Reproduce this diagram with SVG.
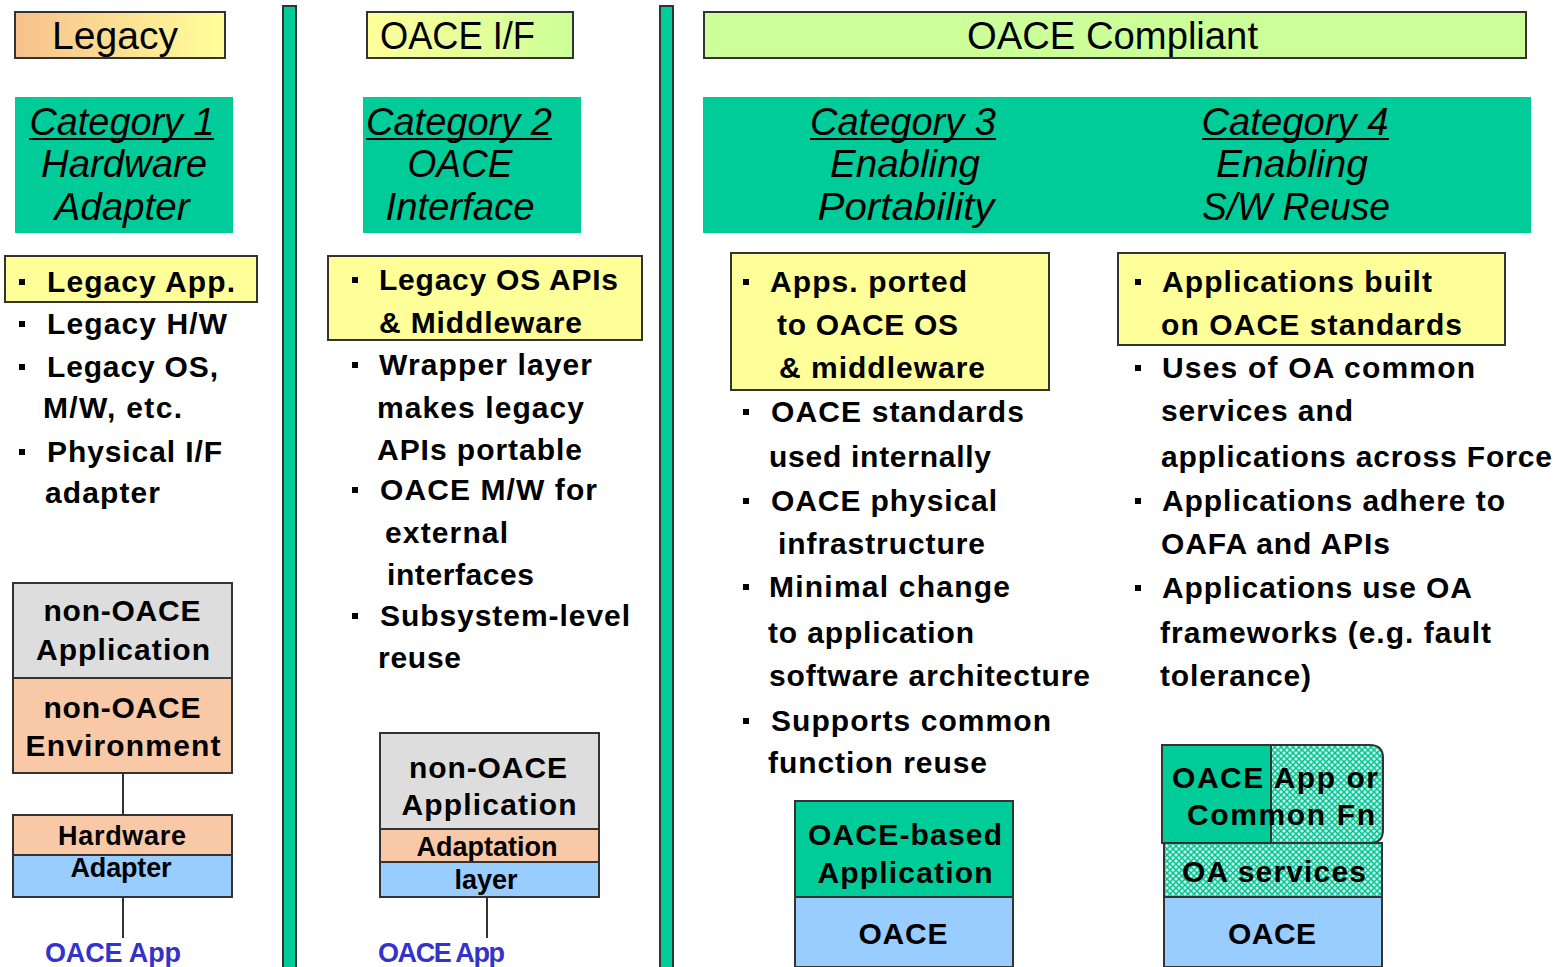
<svg xmlns="http://www.w3.org/2000/svg" width="1562" height="967" viewBox="0 0 1562 967">
<defs>
<linearGradient id="gLeg" x1="0" y1="0" x2="1" y2="0"><stop offset="0" stop-color="#f8c08c"/><stop offset="1" stop-color="#ffff99"/></linearGradient>
<linearGradient id="gIF" x1="0" y1="0" x2="1" y2="0"><stop offset="0" stop-color="#ffff99"/><stop offset="1" stop-color="#ccff99"/></linearGradient>
<pattern id="hatch" width="6" height="6" patternUnits="userSpaceOnUse">
<rect width="6" height="6" fill="#c8f4e6"/>
<path d="M0 0L6 6M6 0L0 6" stroke="#00c494" stroke-width="1.4"/>
</pattern>
<style>
.hdr{stroke:#333;stroke-width:2}
.hdrt{font-family:"Liberation Sans",Arial,sans-serif;font-size:38px;fill:#000}
.cat{fill:#00cc99}
.catt{font-family:"Liberation Sans",Arial,sans-serif;font-size:38px;font-style:italic;fill:#000;text-anchor:middle}
.u{stroke:#000;stroke-width:2}
.box{stroke:#333;stroke-width:2}
.yel{fill:#ffff99}
.b{font-family:"Liberation Sans",Arial,sans-serif;font-size:30px;font-weight:bold;fill:#000}
.st{font-family:"Liberation Sans",Arial,sans-serif;font-size:30px;font-weight:bold;fill:#000;text-anchor:middle}
.sts{font-family:"Liberation Sans",Arial,sans-serif;font-size:27px;font-weight:bold;fill:#000;text-anchor:middle}
.app{font-family:"Liberation Sans",Arial,sans-serif;font-size:27px;font-weight:bold;fill:#3333cc}
.bar{fill:#00cc99;stroke:#333;stroke-width:2}
.conn{stroke:#333;stroke-width:2;fill:none}
.gray{fill:#dddddd}.peach{fill:#f9c8a6}.blue{fill:#99ccff}.teal{fill:#00cc99}
</style>
</defs>
<rect width="1562" height="967" fill="#fff"/>

<g id="dividers">
<rect class="bar" x="283" y="6" width="13" height="965"/>
<rect class="bar" x="660" y="6" width="13" height="965"/>
</g>

<g id="hdr-legacy">
<rect class="hdr" x="15" y="12" width="210" height="46" fill="url(#gLeg)"/>
<text class="hdrt" x="52" y="49" textLength="126" lengthAdjust="spacingAndGlyphs">Legacy</text>
</g>
<g id="hdr-oaceif">
<rect class="hdr" x="367" y="12" width="206" height="46" fill="url(#gIF)"/>
<text class="hdrt" x="380" y="49" textLength="155" lengthAdjust="spacingAndGlyphs">OACE I/F</text>
</g>
<g id="hdr-compliant">
<rect class="hdr" x="704" y="12" width="822" height="46" fill="#ccff99"/>
<text class="hdrt" x="967" y="49" textLength="291" lengthAdjust="spacingAndGlyphs">OACE Compliant</text>
</g>

<g id="cat1">
<rect class="cat" x="15" y="97" width="218" height="136"/>
<text class="catt" x="122" y="135" textLength="185" lengthAdjust="spacingAndGlyphs">Category 1</text>
<line class="u" x1="29" y1="139" x2="214" y2="139"/>
<text class="catt" x="124" y="177" textLength="166" lengthAdjust="spacingAndGlyphs">Hardware</text>
<text class="catt" x="122" y="220" textLength="135" lengthAdjust="spacingAndGlyphs">Adapter</text>
</g>
<g id="cat2">
<rect class="cat" x="363" y="97" width="218" height="136"/>
<text class="catt" x="459" y="135" textLength="186" lengthAdjust="spacingAndGlyphs">Category 2</text>
<line class="u" x1="366" y1="139" x2="552" y2="139"/>
<text class="catt" x="460" y="177" textLength="105" lengthAdjust="spacingAndGlyphs">OACE</text>
<text class="catt" x="460" y="220" textLength="149" lengthAdjust="spacingAndGlyphs">Interface</text>
</g>
<g id="cat34">
<rect class="cat" x="703" y="97" width="828" height="136"/>
<text class="catt" x="903" y="135" textLength="186" lengthAdjust="spacingAndGlyphs">Category 3</text>
<line class="u" x1="810" y1="139" x2="996" y2="139"/>
<text class="catt" x="905" y="177" textLength="150" lengthAdjust="spacingAndGlyphs">Enabling</text>
<text class="catt" x="906" y="220" textLength="177" lengthAdjust="spacingAndGlyphs">Portability</text>
<text class="catt" x="1295" y="135" textLength="187" lengthAdjust="spacingAndGlyphs">Category 4</text>
<line class="u" x1="1202" y1="139" x2="1389" y2="139"/>
<text class="catt" x="1292" y="177" textLength="152" lengthAdjust="spacingAndGlyphs">Enabling</text>
<text class="catt" x="1296" y="220" textLength="188" lengthAdjust="spacingAndGlyphs">S/W Reuse</text>
</g>

<g id="col1-bullets">
<rect class="box yel" x="5" y="256" width="252" height="46"/>
<rect x="19" y="279" width="6" height="6"/>
<text class="b" x="47" y="292" textLength="188">Legacy App.</text>
<rect x="19" y="321" width="6" height="6"/>
<text class="b" x="47" y="334" textLength="180">Legacy H/W</text>
<rect x="19" y="364" width="6" height="6"/>
<text class="b" x="47" y="377" textLength="171">Legacy OS,</text>
<text class="b" x="43" y="418" textLength="139">M/W, etc.</text>
<rect x="19" y="449" width="6" height="6"/>
<text class="b" x="47" y="462" textLength="175">Physical I/F</text>
<text class="b" x="45" y="503" textLength="115">adapter</text>
</g>

<g id="col2-bullets">
<rect class="box yel" x="328" y="256" width="314" height="84"/>
<rect x="352" y="277" width="6" height="6"/>
<text class="b" x="379" y="290" textLength="239">Legacy OS APIs</text>
<text class="b" x="379" y="333" textLength="203">&amp; Middleware</text>
<rect x="352" y="362" width="6" height="6"/>
<text class="b" x="379" y="375" textLength="213">Wrapper layer</text>
<text class="b" x="377" y="418" textLength="207">makes legacy</text>
<text class="b" x="377" y="460" textLength="205">APIs portable</text>
<rect x="352" y="487" width="6" height="6"/>
<text class="b" x="380" y="500" textLength="217">OACE M/W for</text>
<text class="b" x="385" y="543" textLength="123">external</text>
<text class="b" x="387" y="585" textLength="147">interfaces</text>
<rect x="352" y="613" width="6" height="6"/>
<text class="b" x="380" y="626" textLength="250">Subsystem-level</text>
<text class="b" x="378" y="668" textLength="83">reuse</text>
</g>

<g id="col3-bullets">
<rect class="box yel" x="731" y="253" width="318" height="137"/>
<rect x="743" y="279" width="6" height="6"/>
<text class="b" x="770" y="292" textLength="197">Apps. ported</text>
<text class="b" x="777" y="335" textLength="181">to OACE OS</text>
<text class="b" x="779" y="378" textLength="206">&amp; middleware</text>
<rect x="743" y="409" width="6" height="6"/>
<text class="b" x="771" y="422" textLength="253">OACE standards</text>
<text class="b" x="769" y="467" textLength="222">used internally</text>
<rect x="743" y="498" width="6" height="6"/>
<text class="b" x="771" y="511" textLength="226">OACE physical</text>
<text class="b" x="778" y="554" textLength="207">infrastructure</text>
<rect x="743" y="584" width="6" height="6"/>
<text class="b" x="769" y="597" textLength="241">Minimal change</text>
<text class="b" x="768" y="643" textLength="206">to application</text>
<text class="b" x="769" y="686" textLength="321">software architecture</text>
<rect x="743" y="718" width="6" height="6"/>
<text class="b" x="771" y="731" textLength="280">Supports common</text>
<text class="b" x="768" y="773" textLength="219">function reuse</text>
</g>

<g id="col4-bullets">
<rect class="box yel" x="1118" y="253" width="387" height="92"/>
<rect x="1135" y="279" width="6" height="6"/>
<text class="b" x="1162" y="292" textLength="270">Applications built</text>
<text class="b" x="1161" y="335" textLength="301">on OACE standards</text>
<rect x="1135" y="365" width="6" height="6"/>
<text class="b" x="1162" y="378" textLength="313">Uses of OA common</text>
<text class="b" x="1161" y="421" textLength="192">services and</text>
<text class="b" x="1161" y="467" textLength="391">applications across Force</text>
<rect x="1135" y="498" width="6" height="6"/>
<text class="b" x="1162" y="511" textLength="343">Applications adhere to</text>
<text class="b" x="1161" y="554" textLength="229">OAFA and APIs</text>
<rect x="1135" y="585" width="6" height="6"/>
<text class="b" x="1162" y="598" textLength="310">Applications use OA</text>
<text class="b" x="1160" y="643" textLength="331">frameworks (e.g. fault</text>
<text class="b" x="1160" y="686" textLength="151">tolerance)</text>
</g>

<g id="connectors">
<line class="conn" x1="123" y1="773" x2="123" y2="815"/>
<line class="conn" x1="123" y1="897" x2="123" y2="938"/>
<line class="conn" x1="487" y1="897" x2="487" y2="938"/>
</g>

<g id="stack1">
<rect class="box gray" x="13" y="583" width="219" height="95"/>
<text class="st" x="122" y="621" textLength="157">non-OACE</text>
<text class="st" x="123" y="660" textLength="174">Application</text>
<rect class="box peach" x="13" y="678" width="219" height="95"/>
<text class="st" x="122" y="718" textLength="157">non-OACE</text>
<text class="st" x="123" y="756" textLength="195">Environment</text>
</g>
<g id="stack1-adapter">
<rect class="box peach" x="13" y="815" width="219" height="40"/>
<rect class="box blue" x="13" y="855" width="219" height="42"/>
<text class="sts" x="122" y="845" textLength="128">Hardware</text>
<text class="sts" x="121" y="877" textLength="101">Adapter</text>
</g>
<g id="app1">
<text class="app" x="45" y="962" textLength="136">OACE App</text>
</g>

<g id="stack2">
<rect class="box gray" x="380" y="733" width="219" height="96"/>
<text class="st" x="488" y="778" textLength="158">non-OACE</text>
<text class="st" x="489" y="815" textLength="175">Application</text>
<rect class="box peach" x="380" y="829" width="219" height="33"/>
<text class="sts" x="487" y="856" textLength="141">Adaptation</text>
<rect class="box blue" x="380" y="862" width="219" height="35"/>
<text class="sts" x="486" y="889" textLength="63">layer</text>
</g>
<g id="app2">
<text class="app" x="378" y="962" textLength="127">OACE App</text>
</g>

<g id="stack3">
<rect class="box teal" x="795" y="801" width="218" height="96"/>
<text class="st" x="905" y="845" textLength="194">OACE-based</text>
<text class="st" x="905" y="883" textLength="175">Application</text>
<rect class="box blue" x="795" y="897" width="218" height="70"/>
<text class="st" x="903" y="944" textLength="89">OACE</text>
</g>

<g id="stack4">
<path class="box" d="M1271 745H1370Q1383 745 1383 758V830Q1383 843 1370 843H1271Z" fill="url(#hatch)"/>
<rect class="box teal" x="1162" y="745" width="109" height="98"/>
<text class="st" x="1275" y="788" textLength="206">OACE App or</text>
<text class="st" x="1281" y="825" textLength="188">Common Fn</text>
<rect class="box" x="1164" y="843" width="218" height="54" fill="url(#hatch)"/>
<text class="st" x="1274" y="882" textLength="184">OA services</text>
<rect class="box blue" x="1164" y="897" width="218" height="70"/>
<text class="st" x="1272" y="944" textLength="88">OACE</text>
</g>
</svg>
